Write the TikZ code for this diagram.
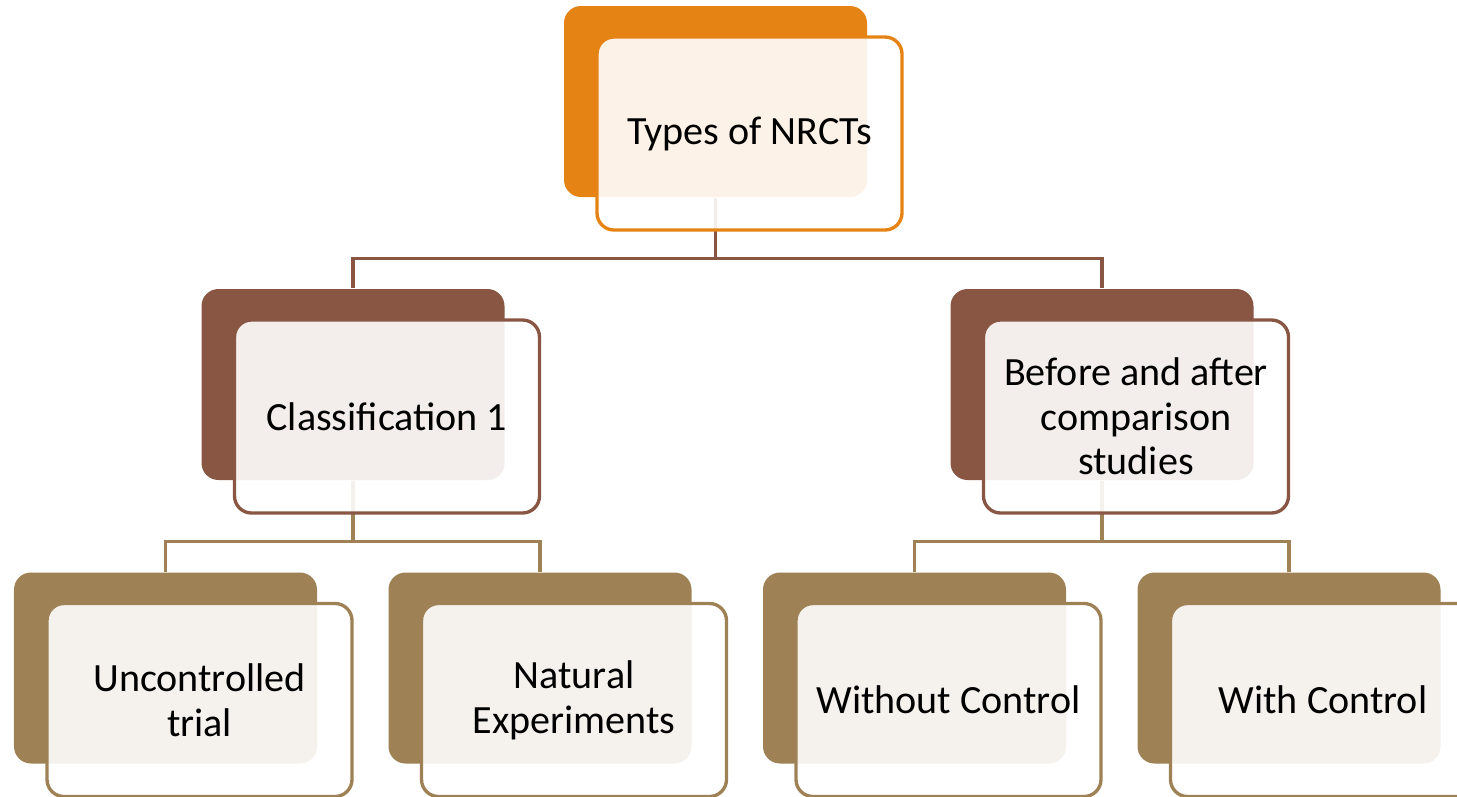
\documentclass[tikz,border=0pt]{standalone}
\usepackage{fontspec}
\setmainfont{Carlito}
\usepackage{tikz}
\usetikzlibrary{positioning}
\definecolor{orgcol}{RGB}{229,131,20}
\definecolor{brncol}{RGB}{136,86,66}
\definecolor{tancol}{RGB}{158,130,86}

\begin{document}
\begin{tikzpicture}[
  backbox/.style ={rectangle,rounded corners=0.17cm,fill=#1,inner sep=0pt,
                   minimum width=3.03cm,minimum height=1.91cm},
  frontbox/.style={rectangle,rounded corners=0.17cm,draw=#1,line width=0.95pt,
                   fill=white,fill opacity=0.9,text opacity=1,inner sep=0pt,
                   minimum width=3.05cm,minimum height=1.93cm,align=center,
                   font=\fontsize{11.4}{12.7}\selectfont},
  conn/.style    ={draw=#1,line width=1pt}
]
\useasboundingbox (0,0) rectangle (14.57,-7.96);

% back plates
\node[backbox=orgcol] (root) at (7.155,-1.015) {};
\node[backbox=brncol] (c1)   at (3.53, -3.845) {};
\node[backbox=brncol] (c2)   at (11.02,-3.845) {};
\node[backbox=tancol] (u1)   at (1.655,-6.68)  {};
\node[backbox=tancol] (u2)   at (5.40, -6.68)  {};
\node[backbox=tancol] (u3)   at (9.145,-6.68)  {};
\node[backbox=tancol] (u4)   at (12.89,-6.68)  {};

% tree lines
\foreach \d in {c1,c2}
  \draw[conn=brncol] (root.south) -- ++(0,-0.61) -| (\d.north);
\foreach \d in {u1,u2}
  \draw[conn=tancol] (c1.south) -- ++(0,-0.61) -| (\d.north);
\foreach \d in {u3,u4}
  \draw[conn=tancol] (c2.south) -- ++(0,-0.61) -| (\d.north);

% front cards with the labels
\node[frontbox=orgcol] (root-f) at ([shift={(0.34,-0.32)}]root) {Types of NRCTs};
\node[frontbox=brncol] (c1-f)   at ([shift={(0.34,-0.32)}]c1)   {Classification 1};
\node[frontbox=brncol] (c2-f)   at ([shift={(0.34,-0.32)}]c2)
  {Before and after\\comparison\\studies};
\node[frontbox=tancol] (u1-f)   at ([shift={(0.34,-0.32)}]u1)   {Uncontrolled\\trial};
\node[frontbox=tancol] (u2-f)   at ([shift={(0.34,-0.32)}]u2)   {Natural\\Experiments};
\node[frontbox=tancol] (u3-f)   at ([shift={(0.34,-0.32)}]u3)   {Without Control};
\node[frontbox=tancol] (u4-f)   at ([shift={(0.34,-0.32)}]u4)   {With Control};
\end{tikzpicture}
\end{document}
